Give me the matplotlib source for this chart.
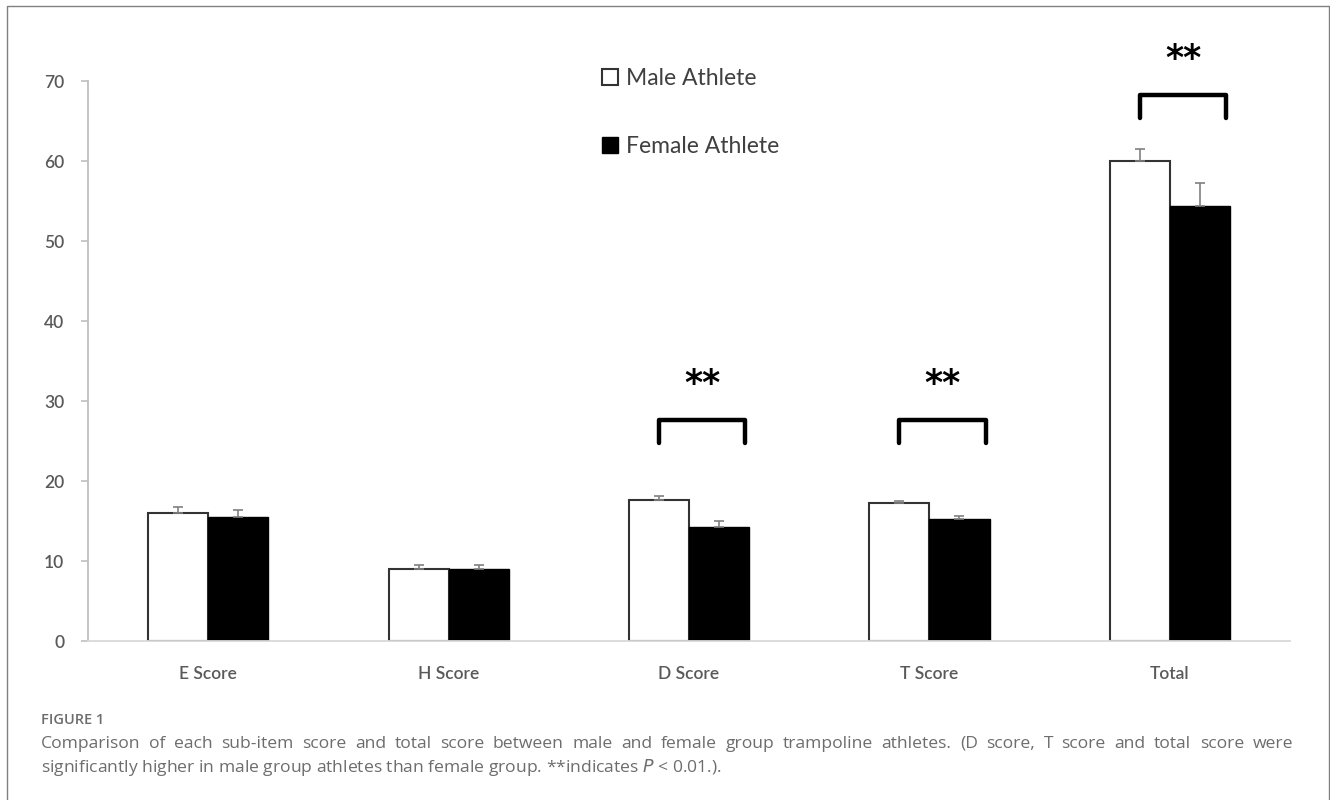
import numpy as np
import matplotlib.pyplot as plt
from matplotlib.lines import Line2D

# data
categories = ["E Score", "H Score", "D Score", "T Score", "Total"]
male = [16.0, 9.0, 17.6, 17.2, 60.0]
female = [15.5, 9.0, 14.2, 15.2, 54.4]
male_err = [0.7, 0.5, 0.5, 0.3, 1.5]
female_err = [0.9, 0.5, 0.8, 0.45, 2.8]
sig_idx = [2, 3, 4]
sig_height = [27.6, 27.6, 68.3]
sig_label = "**"

caption_1 = ("Comparison of each sub-item score and total score between male and female group "
             "trampoline athletes. (D score, T score and total score were")
caption_2 = "significantly higher in male group athletes than female group. **indicates $\\it{P}$ < 0.01.)."

fig = plt.figure(figsize=(13.3, 8), dpi=100)
ax = fig.add_axes([88 / 1330, 1 - 641 / 800, 1202 / 1330, 560 / 800])

x = np.arange(len(categories))
w = 0.25
grey = "#595959"

b1 = ax.bar(x - w / 2, male, w, color="white", edgecolor="#333333", linewidth=1.5, label="Male Athlete", zorder=2)
b2 = ax.bar(x + w / 2, female, w, color="black", edgecolor="black", linewidth=1.0, label="Female Athlete", zorder=2)
ax.errorbar(x - w / 2, male, yerr=[np.zeros(len(male)), male_err], fmt="none",
            ecolor="#808080", elinewidth=1.2, capsize=3.8, capthick=1.2, zorder=3)
ax.errorbar(x + w / 2, female, yerr=[np.zeros(len(female)), female_err], fmt="none",
            ecolor="#808080", elinewidth=1.2, capsize=3.8, capthick=1.2, zorder=3)

# significance brackets
for i, h in zip(sig_idx, sig_height):
    x0, x1 = i - 0.125, i + 0.235
    ax.plot([x0, x0, x1, x1], [h - 2.9, h, h, h - 2.9], color="black", lw=3.2,
            solid_joinstyle="round", solid_capstyle="round", clip_on=False, zorder=4)
    ax.text((x0 + x1) / 2, h + 4.5, sig_label, ha="center", va="center",
            fontsize=25, fontweight="bold", family="DejaVu Sans", clip_on=False)

ax.set_xlim(-0.5, len(categories) - 0.5)
ax.set_ylim(0, 70)
ax.set_yticks(np.arange(0, 71, 10))
ax.set_xticks(x)
ax.set_xticklabels(categories)
for s in ["top", "right"]:
    ax.spines[s].set_visible(False)
ax.spines["left"].set_color("#bfbfbf")
ax.spines["left"].set_linewidth(1.3)
ax.spines["bottom"].set_color("#d9d9d9")
ax.spines["bottom"].set_linewidth(1.3)
ax.tick_params(axis="y", length=5, color="#bfbfbf", width=1.2, pad=12,
               labelsize=12.5, labelcolor=grey)
ax.tick_params(axis="x", length=0, pad=18, labelsize=12.5, labelcolor=grey)
for lab in ax.get_xticklabels() + ax.get_yticklabels():
    lab.set_family("Lato")
    lab.set_fontweight("semibold")

ax.legend(handles=[b1, b2], loc="upper left", bbox_to_anchor=(602 / 1330, 1 - 68 / 800),
          bbox_transform=fig.transFigure, frameon=False, prop={"family": "Lato", "size": 16.5},
          handlelength=0.7, handleheight=0.7, handletextpad=0.35, labelspacing=2.05,
          borderpad=0, borderaxespad=0, labelcolor="#404040")

# caption
cap_kw = dict(family="Open Sans", fontsize=12.6, color="#6d6d6d", va="center")
fig.text(41 / 1330, 1 - 720 / 800, "FIGURE 1", family="Open Sans", fontweight="semibold",
         fontsize=10.5, color="#6d6d6d", va="center")

# first caption line is justified between x=41 and x=1293 px
renderer = fig.canvas.get_renderer()
words = caption_1.split(" ")
texts = [fig.text(0, 1 - 744 / 800, wd, **cap_kw) for wd in words]
widths = [t.get_window_extent(renderer).width for t in texts]
gap = (1293 - 41 - sum(widths)) / (len(words) - 1)
pos = 41
for t, wd in zip(texts, widths):
    t.set_x(pos / 1330)
    pos += wd + gap
fig.text(41 / 1330, 1 - 767 / 800, caption_2, **cap_kw)

# outer frame (top, left, right)
fig.add_artist(Line2D([6.5 / 1330, 6.5 / 1330, 1328.5 / 1330, 1328.5 / 1330],
                      [0, 1 - 6 / 800, 1 - 6 / 800, 0], transform=fig.transFigure,
                      color="#808080", lw=1.0))

fig.savefig("out.png", dpi=100)
